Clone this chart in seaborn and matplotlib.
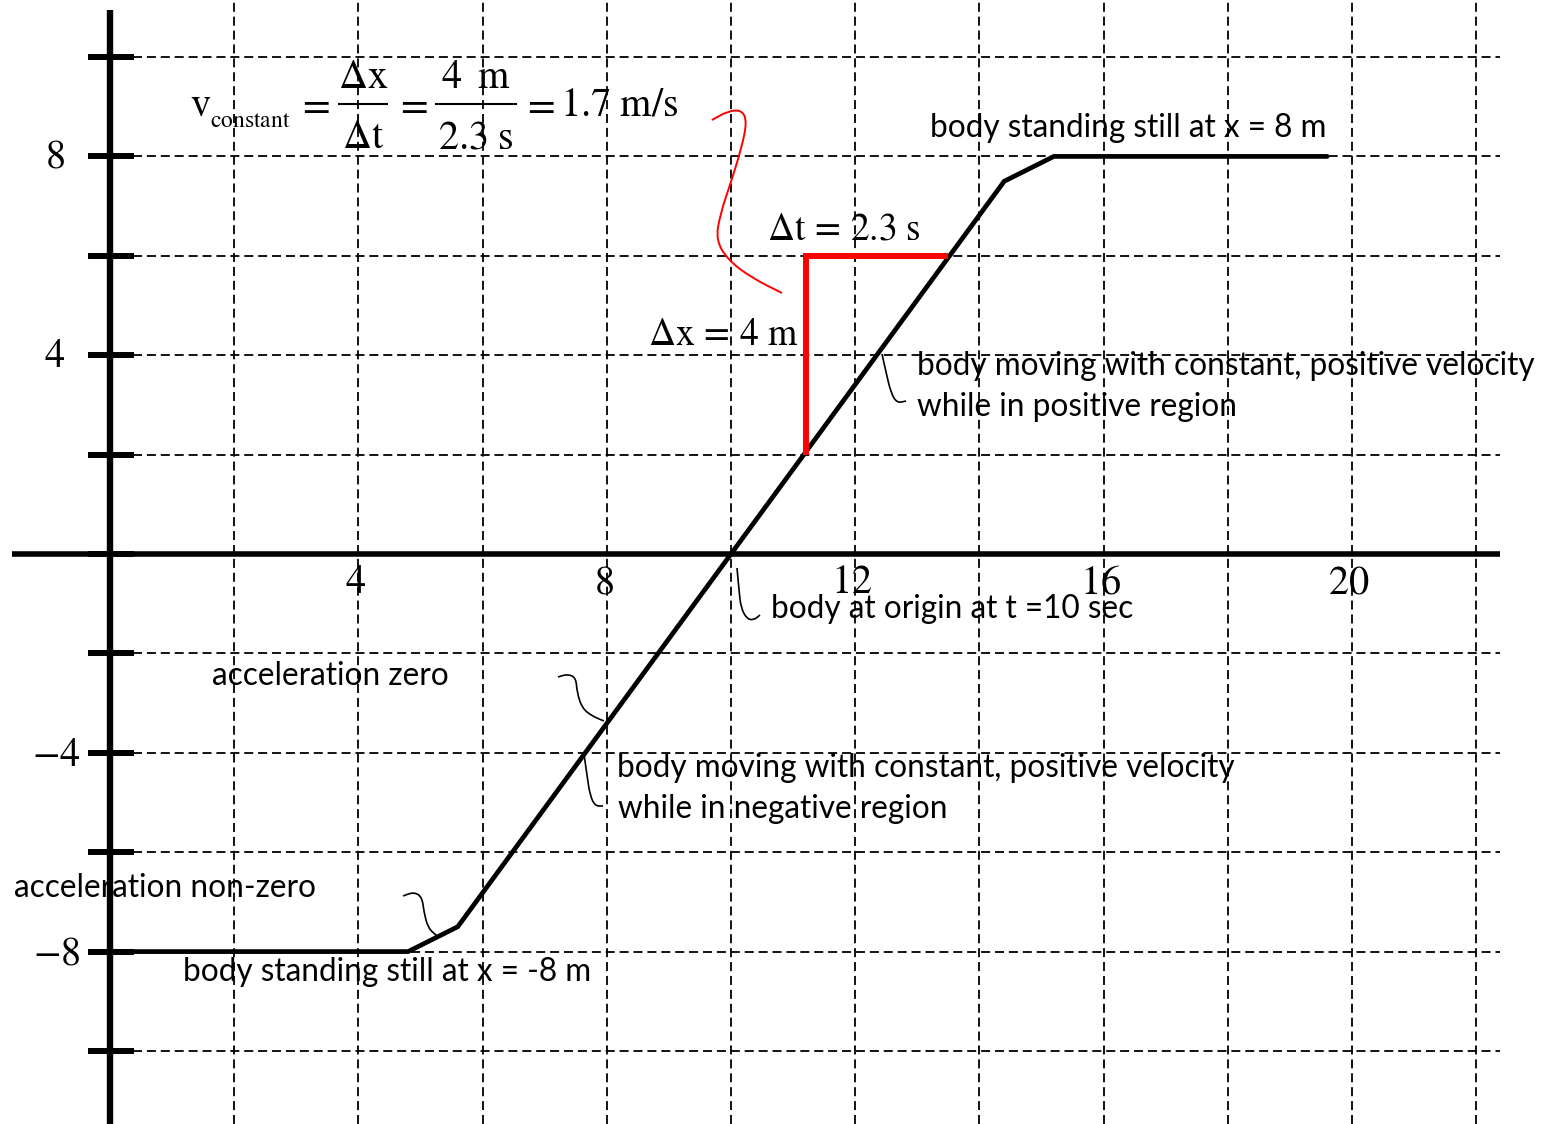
import matplotlib
matplotlib.use("Agg")
import matplotlib.pyplot as plt
from matplotlib.path import Path
from matplotlib.patches import PathPatch
import pandas as pd
import seaborn as sns

# Position of the body over time (t in s, x in m)
time_s = [0.0, 4.8, 5.6, 14.4, 15.2, 19.6]
position_m = [-8.0, -8.0, -7.5, 7.5, 8.0, 8.0]

# Slope triangle used to read the constant velocity
slope_t0 = 11.2
slope_x0 = 2.0
delta_t = 2.3
delta_x = 4.0
velocity = 1.7

# Axis labelling
x_tick_values = [4, 8, 12, 16, 20]
y_tick_values = [8, 4, -4, -8]
y_tick_marks = [-10, -8, -6, -4, -2, 0, 2, 4, 6, 8, 10]
grid_t = [2, 4, 6, 8, 10, 12, 14, 16, 18, 20, 22]
grid_x = [-10, -8, -6, -4, -2, 2, 4, 6, 8, 10]

sns.set_theme(style="white")
plt.rcParams["font.family"] = ["Lato", "DejaVu Sans"]
plt.rcParams["mathtext.fontset"] = "stix"

fig = plt.figure(figsize=(15.45, 11.24), dpi=100)
ax = fig.add_axes([0, 0, 1, 1])
ax.set_xlim(-1.771, 23.108)
ax.set_ylim(-11.469, 11.147)
ax.axis("off")

# dashed grid
dash = (0, (5, 2.7))
ax.vlines(grid_t, -11.469, 11.147, colors="black", linewidth=1.3,
          linestyles=[dash], zorder=1)
ax.hlines(grid_x, 0.37, 22.38, colors="black", linewidth=1.3,
          linestyles=[dash], zorder=1)

# axes drawn through the origin
ax.plot([-1.58, 22.38], [0, 0], color="black", linewidth=4.0,
        solid_capstyle="butt", zorder=2)
ax.plot([0, 0], [-11.469, 10.95], color="black", linewidth=4.6,
        solid_capstyle="butt", zorder=2)
ax.hlines(y_tick_marks, -0.36, 0.38, colors="black", linewidth=4.3, zorder=2)

# tick labels
for v in x_tick_values:
    ax.text(v - 0.05, -0.785, f"${v}$", fontsize=29, ha="center",
            va="baseline", color="black")
for v in y_tick_values:
    if v > 0:
        ax.text(-0.886, v, f"${v}$", fontsize=29, ha="center", va="center",
                color="black")
    else:
        ax.text(-0.47, v - 0.03, f"${v}$", fontsize=29, ha="right",
                va="center", color="black")

# position-time curve
df = pd.DataFrame({"t": time_s, "x": position_m})
sns.lineplot(data=df, x="t", y="x", color="black", linewidth=3.4,
             estimator=None, sort=False, ax=ax, zorder=3,
             solid_joinstyle="miter")

# slope triangle
tri = pd.DataFrame({
    "t": [slope_t0, slope_t0, slope_t0 + delta_t],
    "x": [slope_x0, slope_x0 + delta_x, slope_x0 + delta_x],
})
sns.lineplot(data=tri, x="t", y="x", color="#ff0000", linewidth=4.3,
             estimator=None, sort=False, ax=ax, zorder=4,
             solid_joinstyle="miter", solid_capstyle="butt")
ax.set_xlabel("")
ax.set_ylabel("")


def squiggle(points, color="black", lw=1.2):
    """Smooth hand-drawn style leader through the given points."""
    verts = [points[0]]
    codes = [Path.MOVETO]
    for i in range(1, len(points) - 1):
        mid = ((points[i][0] + points[i + 1][0]) / 2,
               (points[i][1] + points[i + 1][1]) / 2)
        if i == 1:
            m0 = ((points[0][0] + points[1][0]) / 2,
                  (points[0][1] + points[1][1]) / 2)
            verts.append(m0)
            codes.append(Path.LINETO)
        verts += [points[i], mid]
        codes += [Path.CURVE3, Path.CURVE3]
    verts.append(points[-1])
    codes.append(Path.LINETO)
    ax.add_patch(PathPatch(Path(verts, codes), fill=False, edgecolor=color,
                           linewidth=lw, zorder=5))


# leaders from the notes to the curve
squiggle([(9.694, 8.732), (9.952, 8.913), (10.177, 8.934), (10.258, 8.692),
          (10.161, 8.129), (9.984, 7.425), (9.823, 6.821), (9.758, 6.318),
          (9.952, 5.915), (10.338, 5.553), (10.821, 5.252)],
         color="#ff0000", lw=1.4)
squiggle([(12.432, 4.024), (12.496, 3.662), (12.576, 3.239), (12.673, 3.038),
          (12.818, 3.078)])
squiggle([(10.097, -0.282), (10.129, -0.724), (10.161, -1.087),
          (10.258, -1.308), (10.370, -1.328), (10.467, -1.227)])
squiggle([(7.214, -2.475), (7.375, -2.414), (7.504, -2.495), (7.520, -2.777),
          (7.601, -3.099), (7.762, -3.260), (7.955, -3.360)])
squiggle([(7.633, -4.024), (7.681, -4.447), (7.729, -4.849), (7.810, -5.070),
          (7.939, -5.070)])
squiggle([(4.718, -6.881), (4.895, -6.801), (5.024, -6.901), (5.056, -7.203),
          (5.121, -7.525), (5.266, -7.686)])

# velocity formula: v_constant = Δx/Δt = 4 m / 2.3 s = 1.7 m/s
fs = 29
base, num_base, den_base, bar_y = 8.813, 9.376, 8.169, 9.054
serif = dict(color="black", zorder=6, fontsize=fs)
ax.text(1.288, base, r"$\mathrm{v}$", ha="left", va="baseline", **serif)
ax.text(1.610, 8.598, r"$\mathrm{constant}$", ha="left", va="baseline",
        color="black", zorder=6, fontsize=17)
for eq_t in (3.285, 4.863, 6.908):
    ax.text(eq_t, base, r"$=$", ha="center", va="baseline", **serif)
fractions = [
    (4.074, 3.671, 4.477, r"$\Delta\mathrm{x}$", r"$\Delta\mathrm{t}$"),
    (5.894, 5.233, 6.554, rf"${delta_x:g}\;\;\mathrm{{m}}$",
     rf"${delta_t:g}\ \mathrm{{s}}$"),
]
for center, left, right, top, bottom in fractions:
    ax.text(center, num_base, top, ha="center", va="baseline", **serif)
    ax.text(center, den_base, bottom, ha="center", va="baseline", **serif)
    ax.plot([left, right], [bar_y, bar_y], color="black", linewidth=1.5,
            solid_capstyle="butt", zorder=6)
ax.text(7.246, base, rf"${velocity:g}\ \mathrm{{m/s}}$", ha="left",
        va="baseline", **serif)

# triangle labels
label_style = dict(color="black", zorder=6, fontsize=27)
ax.text(10.58, 6.32,
        rf"$\Delta\mathrm{{t}}\,=\,{delta_t:g}\ \mathrm{{s}}$",
        ha="left", va="baseline", **label_style)
ax.text(8.66, 4.21,
        rf"$\Delta\mathrm{{x}}\,=\,{delta_x:g}\ \mathrm{{m}}$",
        ha="left", va="baseline", **label_style)

# descriptive notes
notes = [
    (13.20, 8.39, "body standing still at x = 8 m"),
    (12.99, 3.60, "body moving with constant, positive velocity"),
    (13.00, 2.78, "while in positive region"),
    (10.65, -1.29, "body at origin at t =10 sec"),
    (1.64, -2.64, "acceleration zero"),
    (8.16, -4.49, "body moving with constant, positive velocity"),
    (8.18, -5.31, "while in negative region"),
    (-1.54, -6.90, "acceleration non-zero"),
    (1.18, -8.59, "body standing still at x = -8 m"),
]
for t, x, s in notes:
    ax.text(t, x, s, fontsize=22.7, ha="left", va="baseline", color="black",
            zorder=6)

fig.savefig("out.png", dpi=100, facecolor="white")
